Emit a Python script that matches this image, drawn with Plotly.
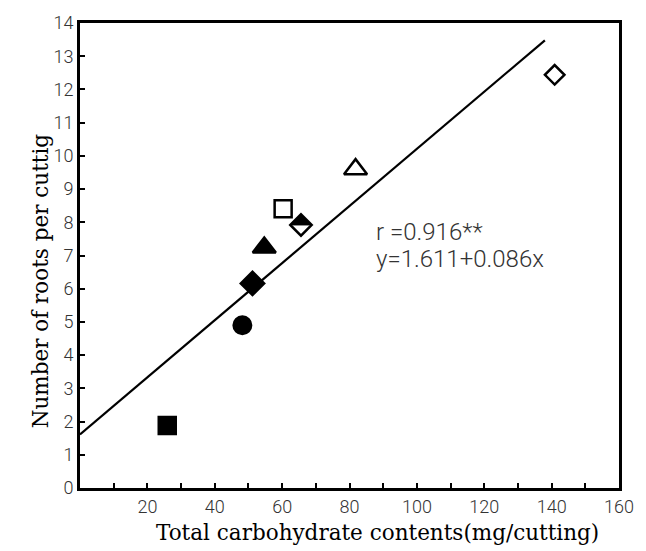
import plotly.graph_objects as go

# ---- data ----
treatments = ["A", "B", "C", "D", "E", "F", "G", "H"]
carbohydrate = [25.9, 48.2, 51.2, 54.7, 60.3, 65.6, 81.8, 140.9]
roots = [1.88, 4.90, 6.16, 7.24, 8.41, 7.92, 9.60, 12.44]
symbols = ["square", "circle", "diamond", "triangle-up", "square-open",
           "diamond-open", "triangle-up-open", "diamond-open"]
sizes = [17, 17.5, 18, 20, 17, 16.5, 20, 15]

intercept = 1.611
slope = 0.086
line_x = [0, 138]
line_y = [intercept + slope * v for v in line_x]

x_ticks = [20, 40, 60, 80, 100, 120, 140, 160]
y_ticks = list(range(0, 15))

stat_lines = ["r =0.916**", "y=1.611+0.086x"]

tick_font = dict(family="Roboto, Liberation Sans, sans-serif", weight=300,
                 size=18, color="#333")
title_font = dict(family="DejaVu Serif, serif", size=21.5, color="black")

fig = go.Figure()
fig.add_trace(go.Scatter(x=line_x, y=line_y, mode="lines",
                         line=dict(color="black", width=2.2),
                         showlegend=False, hoverinfo="skip"))
for i in range(len(treatments)):
    fig.add_trace(go.Scatter(
        x=[carbohydrate[i]], y=[roots[i]], mode="markers", name=treatments[i],
        marker=dict(symbol=symbols[i], size=sizes[i], color="black",
                    line=dict(color="black", width=2.5)),
        showlegend=False))

# upper half of the half-filled diamond (index 5)
hd = 5
r = sizes[hd] / 2 * 1.3
fig.add_shape(type="path", xref="x", yref="y",
              xsizemode="pixel", ysizemode="pixel",
              xanchor=carbohydrate[hd], yanchor=roots[hd],
              path=f"M {-r},0 L 0,{r} L {r},0 Z",
              fillcolor="black", line=dict(color="black", width=1))

for k, t in enumerate(stat_lines):
    fig.add_annotation(x=87.4, y=7.72 - 0.84 * k, xref="x", yref="y",
                       text=t, showarrow=False, xanchor="left", yanchor="middle",
                       font=dict(family="Roboto, Liberation Sans, sans-serif", weight=300,
                                 size=24, color="#333"))

fig.add_annotation(x=25, y=280, xref="paper", yref="paper",
                   text="Number of roots per cuttig", textangle=-90,
                   showarrow=False, font=title_font)
fig.add_annotation(x=380, y=533, xref="paper", yref="paper",
                   text="Total carbohydrate contents(mg/cutting)",
                   showarrow=False, yanchor="middle", font=title_font)

# convert the two title positions above from pixels to paper fractions
W, H = 646, 551
L, R, T, B = 80, 22, 20, 63
pw, ph = W - L - R, H - T - B
for a in fig.layout.annotations[-2:]:
    a.x = (a.x - L) / pw
    a.y = (H - B - a.y) / ph

fig.update_xaxes(range=[0, 160], tickvals=x_ticks, ticktext=[str(v) for v in x_ticks],
                 ticks="inside", ticklen=5, tickwidth=2, tickcolor="black",
                 minor=dict(dtick=10, ticks="inside", ticklen=5, tickwidth=2, tickcolor="black"),
                 showline=True, linewidth=3, linecolor="black", mirror=True,
                 showgrid=False, zeroline=False, tickfont=tick_font)
fig.update_yaxes(range=[0, 14], tickvals=y_ticks, ticktext=[str(v) for v in y_ticks],
                 ticks="inside", ticklen=5, tickwidth=2, tickcolor="black",
                 showline=True, linewidth=3, linecolor="black", mirror=True,
                 showgrid=False, zeroline=False, tickfont=tick_font)

fig.update_layout(width=W, height=H, margin=dict(l=L, r=R, t=T, b=B),
                  plot_bgcolor="white", paper_bgcolor="white")

fig.write_html("out.html")
